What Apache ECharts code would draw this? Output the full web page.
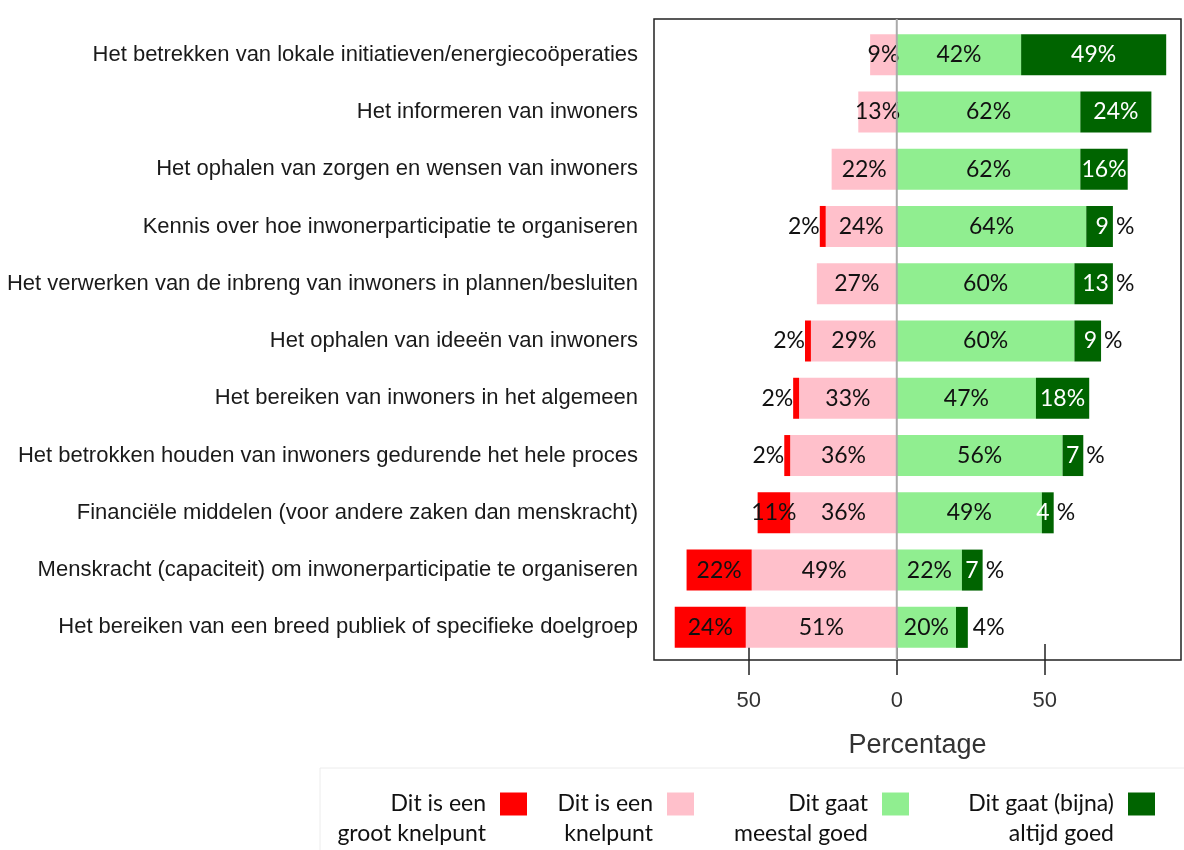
<!DOCTYPE html>
<html>
<head>
<meta charset="utf-8">
<script src="https://cdn.jsdelivr.net/npm/echarts@6/dist/echarts.min.js"></script>
<style>
html, body { margin: 0; padding: 0; background: #fff; }
#chart { width: 1184px; height: 850px; }
</style>
</head>
<body>
<div id="chart"></div>
<script>
// categories, top to bottom
var categories = [
	'Het betrekken van lokale initiatieven/energiecoöperaties',
	'Het informeren van inwoners',
	'Het ophalen van zorgen en wensen van inwoners',
	'Kennis over hoe inwonerparticipatie te organiseren',
	'Het verwerken van de inbreng van inwoners in plannen/besluiten',
	'Het ophalen van ideeën van inwoners',
	'Het bereiken van inwoners in het algemeen',
	'Het betrokken houden van inwoners gedurende het hele proces',
	'Financiële middelen (voor andere zaken dan menskracht)',
	'Menskracht (capaciteit) om inwonerparticipatie te organiseren',
	'Het bereiken van een breed publiek of specifieke doelgroep'
];

// percentages per answer
var grootKnelpunt = [0, 0, 0, 2, 0, 2, 2, 2, 11, 22, 24];
var knelpunt = [9, 13, 22, 24, 27, 29, 33, 36, 36, 49, 51];
var meestalGoed = [42, 62, 62, 64, 60, 60, 47, 56, 49, 22, 20];
var altijdGoed = [49, 24, 16, 9, 13, 9, 18, 7, 4, 7, 4];

var xTicks = [-50, 0, 50];
var zeroLine = [[0, 0], [0, 1]];

var names = [
	'Dit is een\ngroot knelpunt',
	'Dit is een\nknelpunt',
	'Dit gaat\nmeestal goed',
	'Dit gaat (bijna)\naltijd goed'
];
var colors = ['#ff0000', '#ffc0cb', '#90ee90', '#006400'];

var labelFont = 'Lato';
var labelSize = 23;
var measure = document.createElement('canvas').getContext('2d');
measure.font = labelSize + 'px ' + labelFont;

// left side bars are negative
function negData(vals, isRed) {
	return vals.map(function (v) {
		return {
			value: -v,
			label: {
				show: v > 0,
				position: (isRed && v <= 3) ? 'left' : 'inside',
				distance: 0,
				formatter: v + '%'
			}
		};
	});
}

// dark green: number inside in white, small ones spill the % outside
function darkData(vals) {
	return vals.map(function (v, i) {
		if (v >= 16) {
			return { value: v, label: { position: 'inside', color: '#fff', formatter: v + '%' } };
		}
		if (i === vals.length - 1) {
			return { value: v, label: { position: 'right', distance: 5, formatter: v + '%' } };
		}
		var w = measure.measureText(String(v)).width;
		return {
			value: v,
			label: {
				position: 'right',
				distance: 0,
				offset: [-(w + 4), 0],
				formatter: '{w|' + v + '}{k|%}'
			}
		};
	});
}

var baseLabel = {
	show: true,
	fontFamily: labelFont,
	fontSize: labelSize,
	color: '#111',
	rich: {
		w: { color: '#fff', fontFamily: labelFont, fontSize: labelSize },
		k: { color: '#111', fontFamily: labelFont, fontSize: labelSize, padding: [0, 0, 0, 7] }
	}
};

function barSeries(name, color, data) {
	return {
		name: name,
		type: 'bar',
		stack: 'tot',
		xAxisIndex: 2,
		yAxisIndex: 1,
		barWidth: 41,
		itemStyle: { color: color },
		label: baseLabel,
		data: data
	};
}

var chart = echarts.init(document.getElementById('chart'), null, { renderer: 'canvas' });

var legendRight = [652, 485, 270, 24];

chart.setOption({
	animation: false,
	backgroundColor: '#fff',
	grid: [
		// frame with the axes
		{ left: 654, right: 3, top: 19, height: 641, show: true, borderColor: '#222', borderWidth: 1.5 },
		// bars
		{ left: 654, right: 3, top: 26, height: 630 }
	],
	xAxis: [
		{
			gridIndex: 0, type: 'value', position: 'top', min: -82, max: 96,
			axisLine: { show: false },
			axisTick: { show: true, inside: false, length: 16, customValues: xTicks, lineStyle: { color: '#222', width: 1.5 } },
			axisLabel: { show: false },
			splitLine: { show: false }
		},
		{
			gridIndex: 0, type: 'value', position: 'bottom', min: -82, max: 96,
			name: 'Percentage', nameLocation: 'middle', nameGap: 72,
			nameTextStyle: { fontFamily: 'Liberation Sans', fontSize: 27, color: '#333' },
			axisLine: { show: false },
			axisTick: { show: true, inside: false, length: 15, customValues: xTicks, lineStyle: { color: '#222', width: 1.5 } },
			axisLabel: {
				customValues: xTicks, margin: 30,
				fontFamily: 'Liberation Sans', fontSize: 22, color: '#333',
				formatter: function (v) { return Math.abs(v); }
			},
			splitLine: { show: false }
		},
		{
			gridIndex: 1, type: 'value', min: -82, max: 96, show: false
		}
	],
	yAxis: [
		{ gridIndex: 0, type: 'value', min: 0, max: 1, show: false },
		{
			gridIndex: 1, type: 'category', data: categories, inverse: true,
			axisLine: { show: false }, axisTick: { show: false },
			axisLabel: { margin: 16, fontFamily: 'Liberation Sans', fontSize: 22, color: '#1a1a1a' }
		}
	],
	legend: names.map(function (n, i) {
		return {
			data: [n],
			right: legendRight[i],
			top: 754,
			align: 'right',
			icon: 'rect',
			itemWidth: 27,
			itemHeight: 23,
			selectedMode: false,
			// empty first line keeps the box level with the first text line
			formatter: function (name) { return '\n' + name; },
			textStyle: { fontFamily: labelFont, fontSize: 23, lineHeight: 30, color: '#111', padding: [0, 9, 0, 0] }
		};
	}),
	graphic: [
		{ type: 'line', shape: { x1: 320, y1: 768, x2: 1184, y2: 768 }, style: { stroke: '#ececec', lineWidth: 1 } },
		{ type: 'line', shape: { x1: 320, y1: 768, x2: 320, y2: 850 }, style: { stroke: '#ececec', lineWidth: 1 } }
	],
	series: [
		barSeries(names[1], colors[1], negData(knelpunt, false)),
		barSeries(names[0], colors[0], negData(grootKnelpunt, true)),
		barSeries(names[2], colors[2], meestalGoed.map(function (v) { return { value: v, label: { formatter: v + '%' } }; })),
		barSeries(names[3], colors[3], darkData(altijdGoed)),
		{
			type: 'line', xAxisIndex: 0, yAxisIndex: 0, data: zeroLine,
			symbol: 'none', silent: true, z: 5,
			lineStyle: { color: '#aaaaaa', width: 2 }
		}
	]
});
</script>
</body>
</html>
